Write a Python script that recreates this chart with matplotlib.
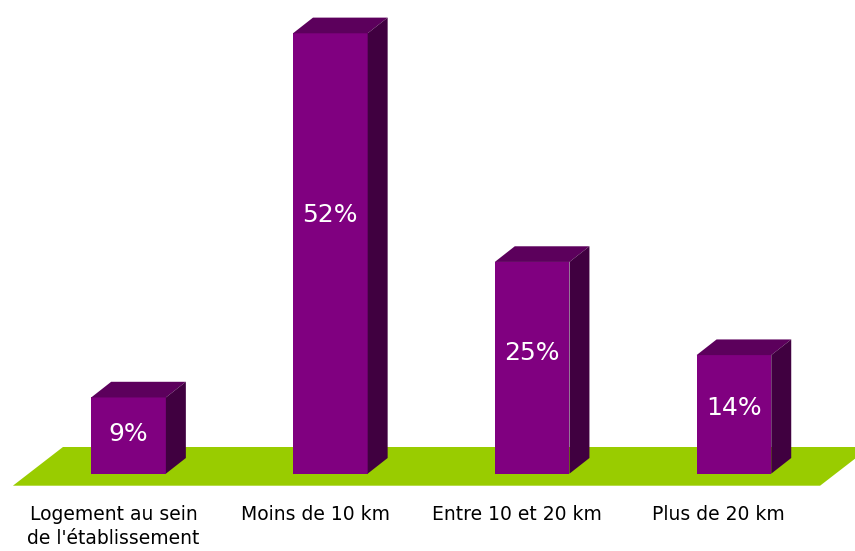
import numpy as np
import matplotlib.pyplot as plt
from matplotlib.patches import Polygon

categories = ["Logement au sein\nde l'établissement", "Moins de 10 km",
              "Entre 10 et 20 km", "Plus de 20 km"]
values = [9, 52, 25, 14]
value_labels = ["9%", "52%", "25%", "14%"]

front_col = "#800080"
top_col = "#5c005c"
side_col = "#400040"
floor_col = "#99cc00"

fig = plt.figure(figsize=(8.55, 5.51), dpi=100)
ax = fig.add_axes([0, 0, 1, 1])
ax.set_xlim(-0.637, 3.600)
ax.set_ylim(-9.13, 55.93)
ax.set_axis_off()

w = 0.37      # bar width (category units)
dx = 0.099    # depth offset in x
dy = 1.85     # depth offset in y

# green floor
fx0, fx1 = -0.573, 3.427
fy0, fy1 = -1.42, 3.15
ax.add_patch(Polygon([(fx0, fy0), (fx1, fy0), (fx1 + 0.248, fy1), (fx0 + 0.248, fy1)],
                     closed=True, facecolor=floor_col, edgecolor="none", zorder=1))

x = np.arange(len(values))
for xi, v, lab in zip(x, values, value_labels):
    l, r = xi - w / 2, xi + w / 2
    ax.add_patch(Polygon([(l, 0), (r, 0), (r, v), (l, v)], closed=True,
                         facecolor=front_col, edgecolor="none", zorder=3))
    ax.add_patch(Polygon([(l, v), (r, v), (r + dx, v + dy), (l + dx, v + dy)], closed=True,
                         facecolor=top_col, edgecolor="none", zorder=3))
    ax.add_patch(Polygon([(r, 0), (r + dx, dy), (r + dx, v + dy), (r, v)], closed=True,
                         facecolor=side_col, edgecolor="none", zorder=3))
    ax.text(xi, 0.6 * v - 0.7, lab, color="white", fontsize=18,
            ha="center", va="center", zorder=4)

for xi, cat in zip(x, categories):
    ax.text(xi - 0.075, -3.75, cat, color="black", fontsize=13.5,
            ha="center", va="top", linespacing=1.3)

fig.savefig("out.png", dpi=100)
